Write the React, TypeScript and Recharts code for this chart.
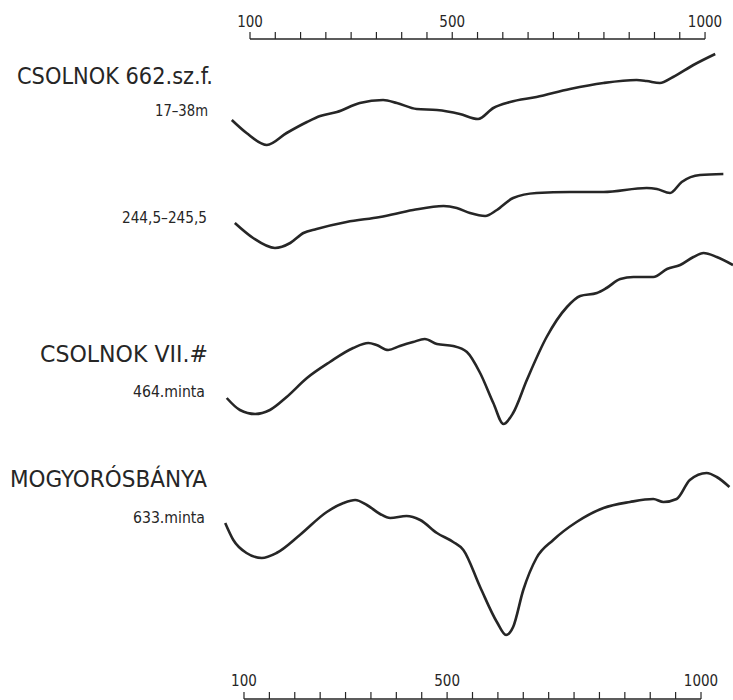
import { Line, LineChart, ReferenceLine, XAxis, YAxis } from 'recharts';

// temperature scale (°C)
const axisTicks = [
  100, 150, 200, 250, 300, 350, 400, 450, 500, 550, 600, 650, 700, 750, 800, 850, 900, 950, 1000,
];
const labelledTicks = [100, 500, 1000];

// CSOLNOK 662.sz.f. 17-38m
const temps1 = [76, 105, 145, 184, 224, 250, 283, 328, 374, 401, 440, 480, 525, 561, 591, 624, 676, 742, 808, 873, 893, 919, 945, 985, 1028];
const defl1 = [25, 12, 0, 12, 23, 29, 33, 42, 45, 42, 36, 35, 31, 26, 37, 43, 48, 56, 62, 65, 64, 62, 68, 80, 91];

// CSOLNOK 662.sz.f. 244,5-245,5
const temps2 = [82, 118, 161, 191, 217, 243, 302, 368, 433, 493, 519, 545, 575, 598, 630, 676, 742, 808, 893, 913, 939, 962, 998, 1044];
const defl2 = [25, 10, 0, 5, 15, 19, 26, 31, 38, 42, 40, 35, 32, 38, 50, 55, 56, 56, 60, 59, 55, 66, 73, 74];

// CSOLNOK VII. 464.minta
const temps3 = [66, 92, 122, 151, 184, 224, 269, 315, 345, 361, 384, 407, 433, 456, 480, 512, 539, 565, 591, 611, 630, 657, 696, 736, 762, 795, 814, 841, 867, 906, 933, 959, 985, 1005, 1031, 1063];
const defl3 = [16, 4, 0, 4, 17, 36, 52, 66, 71, 69, 64, 68, 72, 75, 70, 68, 62, 41, 11, -10, 1, 34, 77, 107, 118, 121, 126, 135, 137, 137, 145, 149, 157, 161, 157, 149];

// MOGYORÓSBÁNYA 633.minta
const temps4 = [63, 79, 105, 135, 164, 210, 263, 296, 319, 342, 368, 388, 420, 447, 480, 512, 532, 565, 598, 616, 630, 650, 676, 709, 755, 808, 860, 906, 926, 952, 978, 1011, 1031, 1056];
const defl4 = [35, 18, 5, 0, 5, 23, 46, 55, 58, 53, 44, 40, 42, 38, 25, 16, 8, -29, -64, -77, -69, -32, 0, 18, 36, 50, 56, 59, 56, 59, 78, 85, 81, 71];

// vertical shift of each curve on the sheet
const curveBase = [554, 451, 285, 141];

const toPoints = (temps: number[], defl: number[], base: number) =>
  temps.map((t, i) => ({ t, v: base + defl[i] }));

const curves = [
  toPoints(temps1, defl1, curveBase[0]),
  toPoints(temps2, defl2, curveBase[1]),
  toPoints(temps3, defl3, curveBase[2]),
  toPoints(temps4, defl4, curveBase[3]),
];

const sampleLabels = [
  { text: 'CSOLNOK 662.sz.f.', x: 213, y: 84, size: 23, width: 196 },
  { text: '17–38m', x: 208, y: 116, size: 16, width: 53 },
  { text: '244,5–245,5', x: 207, y: 223, size: 16, width: 85 },
  { text: 'CSOLNOK VII.#', x: 208, y: 362, size: 23, width: 168 },
  { text: '464.minta', x: 205, y: 397, size: 16, width: 72 },
  { text: 'MOGYORÓSBÁNYA', x: 207, y: 487, size: 23, width: 197 },
  { text: '633.minta', x: 205, y: 523, size: 16, width: 72 },
];

const FONT = "'Liberation Sans Narrow', 'DejaVu Sans Condensed', 'Roboto', sans-serif";
const INK = '#262626';

const fmt = (v: number) => (labelledTicks.includes(v) ? String(v) : '');

export default function App() {
  return (
    <div style={{ position: 'absolute', left: 0, top: 0, width: 733, height: 700, background: '#fff' }}>
      <LineChart width={733} height={700} margin={{ top: 0, right: 0, left: 222, bottom: 1 }}>
        <YAxis hide type="number" domain={[0, 660]} />
        <XAxis
          xAxisId="top"
          orientation="top"
          type="number"
          dataKey="t"
          domain={[44.6, 1055.3]}
          allowDataOverflow
          ticks={axisTicks}
          interval={0}
          height={39}
          tickSize={7}
          tickMargin={5}
          axisLine={false}
          tickLine={{ stroke: INK, strokeWidth: 1.2 }}
          tickFormatter={fmt}
          tick={{ fontFamily: FONT, fontSize: 15, fill: INK }}
        />
        <XAxis
          xAxisId="bottom"
          orientation="bottom"
          mirror
          type="number"
          dataKey="t"
          domain={[56.7, 1063]}
          ticks={axisTicks}
          interval={0}
          tickSize={7}
          tickMargin={6}
          axisLine={false}
          tickLine={{ stroke: INK, strokeWidth: 1.2 }}
          tickFormatter={fmt}
          tick={{ fontFamily: FONT, fontSize: 15, fill: INK }}
        />
        <ReferenceLine
          xAxisId="top"
          ifOverflow="visible"
          segment={[{ x: 100, y: 660 }, { x: 1000, y: 660 }]}
          stroke={INK}
          strokeWidth={1.3}
        />
        <ReferenceLine
          xAxisId="bottom"
          ifOverflow="visible"
          segment={[{ x: 100, y: 0 }, { x: 1000, y: 0 }]}
          stroke={INK}
          strokeWidth={1.3}
        />
        {curves.map((data, i) => (
          <Line
            key={i}
            xAxisId="bottom"
            data={data}
            dataKey="v"
            type="monotone"
            dot={false}
            stroke={INK}
            strokeWidth={2.6}
            isAnimationActive={false}
          />
        ))}
      </LineChart>
      <svg
        width={222}
        height={700}
        style={{ position: 'absolute', left: 0, top: 0, pointerEvents: 'none' }}
      >
        {sampleLabels.map((l) => (
          <text
            key={l.text}
            x={l.x}
            y={l.y}
            textAnchor="end"
            fontFamily={FONT}
            fontSize={l.size}
            fill={INK}
            textLength={l.width}
            lengthAdjust="spacingAndGlyphs"
          >
            {l.text}
          </text>
        ))}
      </svg>
    </div>
  );
}
